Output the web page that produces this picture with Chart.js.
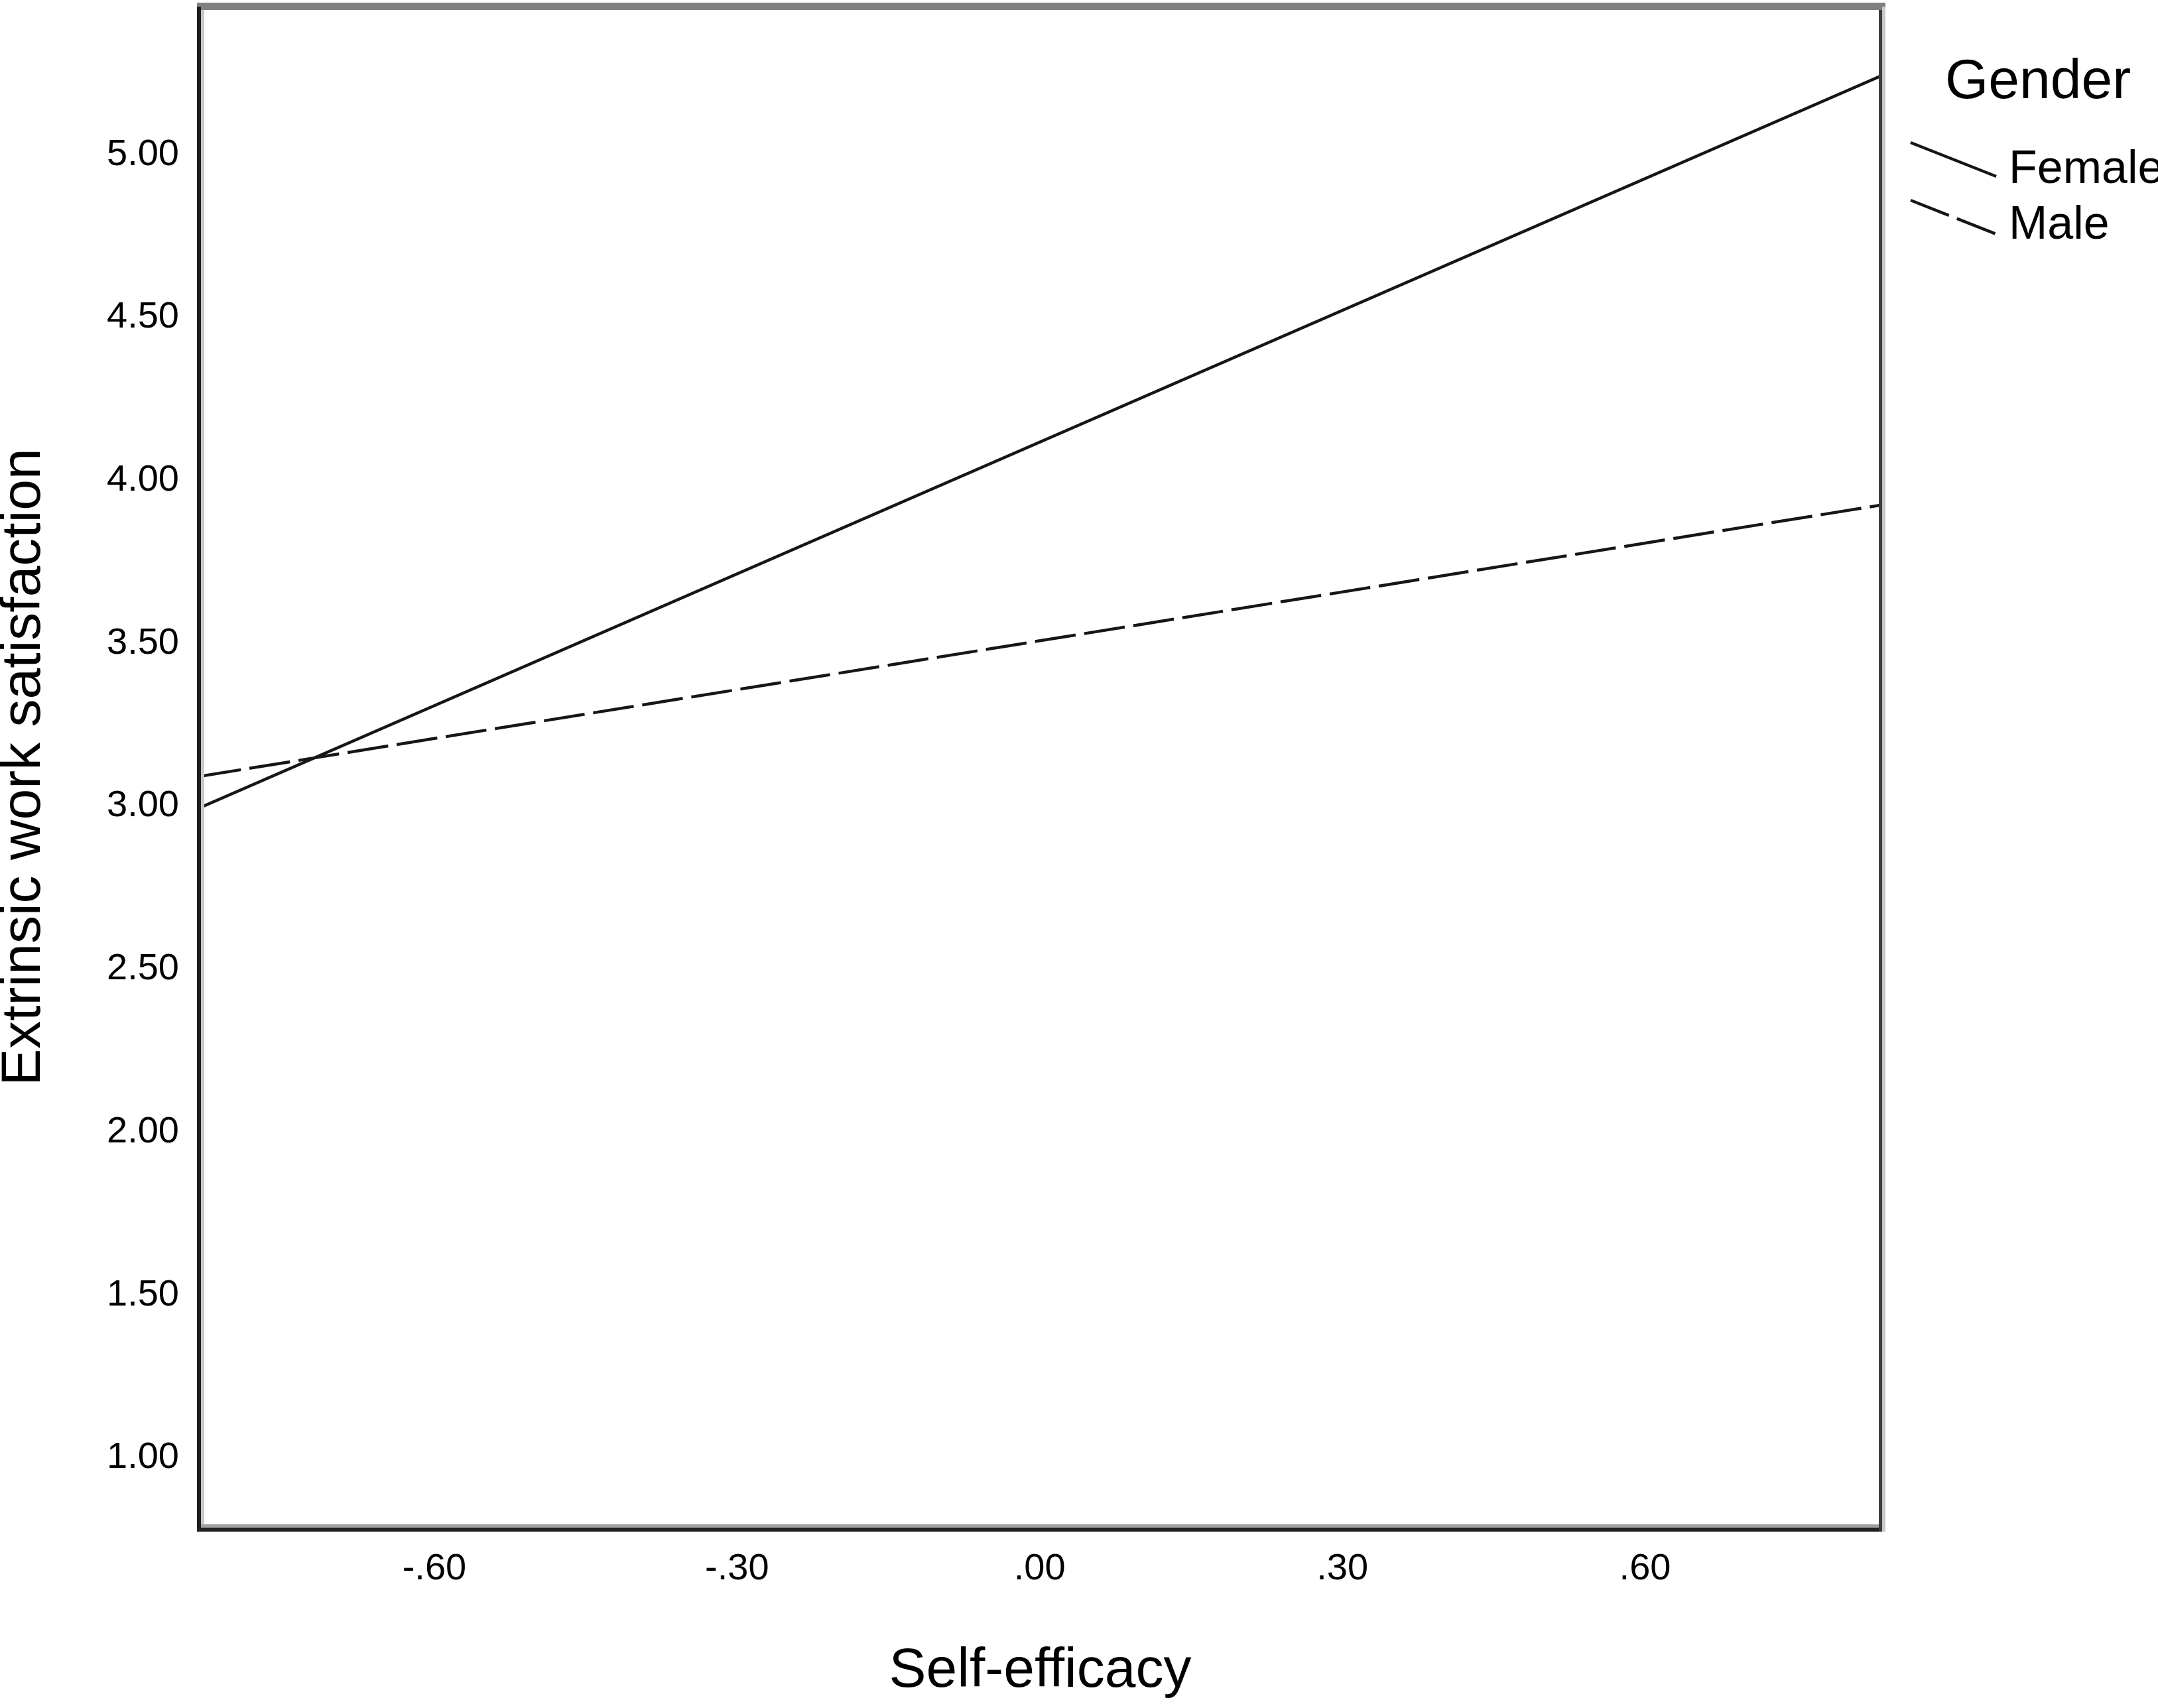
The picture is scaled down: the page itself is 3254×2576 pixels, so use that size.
<!DOCTYPE html>
<html>
<head>
<meta charset="utf-8">
<script src="https://cdn.jsdelivr.net/npm/chart.js@4.4.1/dist/chart.umd.min.js"></script>
<style>
html, body { margin: 0; padding: 0; background: #ffffff; }
#wrap { width: 3254px; height: 2576px; }
canvas { display: block; }
</style>
</head>
<body>
<div id="wrap"><canvas id="c" width="3254" height="2576"></canvas></div>
<script>
// ---- data ----
const selfEfficacy = [-0.832, 0.833];          // x at the two ends of each fitted line
const femaleSatisfaction = [2.996, 5.240];
const maleSatisfaction = [3.092, 3.924];
const seriesLabels = ['Female', 'Male'];
const legendTitle = 'Gender';
const xTicks = [-0.6, -0.3, 0, 0.3, 0.6];
const yTicks = [1, 1.5, 2, 2.5, 3, 3.5, 4, 4.5, 5];
const xRange = [-0.832, 0.833];
const yRange = [0.786, 5.454];
const xTitle = 'Self-efficacy';
const yTitle = 'Extrinsic work satisfaction';

const FONT = "'Liberation Sans', Arial, 'DejaVu Sans', sans-serif";
const INK = '#000000';
const LINE = '#161616';

function fmtX(v) {
  return Number(v).toFixed(2).replace(/^(-?)0\./, '$1.');
}
function fmtY(v) {
  return Number(v).toFixed(2);
}

const framePlugin = {
  id: 'spssFrame',
  afterDatasetsDraw(chart) {
    const ctx = chart.ctx;
    const a = chart.chartArea;
    ctx.save();
    // top band
    ctx.fillStyle = '#808080';
    ctx.fillRect(a.left - 5, a.top - 6, (a.right + 8) - (a.left - 5), 11);
    // left
    ctx.fillStyle = '#1e1e1e';
    ctx.fillRect(a.left - 5, a.top, 6, a.bottom - a.top + 6);
    ctx.fillStyle = '#c8c8c8';
    ctx.fillRect(a.left + 1, a.top + 5, 5, a.bottom - a.top - 10);
    // bottom
    ctx.fillStyle = '#a0a0a0';
    ctx.fillRect(a.left + 1, a.bottom - 5, a.right - a.left - 3, 5);
    ctx.fillStyle = '#222222';
    ctx.fillRect(a.left - 5, a.bottom, a.right - a.left + 8, 6);
    // right
    ctx.fillStyle = '#3c3c3c';
    ctx.fillRect(a.right - 2, a.top + 5, 5, a.bottom - a.top + 1);
    ctx.fillStyle = '#c8c8c8';
    ctx.fillRect(a.right + 3, a.top, 5, a.bottom - a.top + 6);
    ctx.restore();
  }
};

const legendPlugin = {
  id: 'spssLegend',
  afterDraw(chart) {
    const ctx = chart.ctx;
    ctx.save();
    ctx.fillStyle = INK;
    ctx.textAlign = 'left';
    ctx.textBaseline = 'alphabetic';
    ctx.font = '84px ' + FONT;
    ctx.fillText(legendTitle, 2933, 148);
    chart.data.datasets.forEach((ds, i) => {
      const y0 = 215 + i * 87;
      ctx.save();
      ctx.strokeStyle = ds.borderColor;
      ctx.lineWidth = ds.borderWidth;
      ctx.setLineDash(ds.borderDash || []);
      ctx.beginPath();
      ctx.moveTo(2881, y0);
      ctx.lineTo(3010, y0 + 51);
      ctx.stroke();
      ctx.restore();
      ctx.font = '70px ' + FONT;
      ctx.fillStyle = INK;
      ctx.fillText(ds.label, 3029, 276 + i * 84);
    });
    ctx.restore();
  }
};

const chart = new Chart(document.getElementById('c'), {
  type: 'line',
  data: {
    datasets: [
      {
        label: seriesLabels[0],
        data: selfEfficacy.map((x, i) => ({ x: x, y: femaleSatisfaction[i] })),
        borderColor: LINE,
        borderWidth: 4.5,
        pointRadius: 0,
        fill: false,
        tension: 0
      },
      {
        label: seriesLabels[1],
        data: selfEfficacy.map((x, i) => ({ x: x, y: maleSatisfaction[i] })),
        borderColor: LINE,
        borderWidth: 4.5,
        borderDash: [62, 13],
        pointRadius: 0,
        fill: false,
        tension: 0
      }
    ]
  },
  options: {
    responsive: false,
    animation: false,
    devicePixelRatio: 1,
    layout: { padding: { top: 10, right: 419, bottom: 0, left: 0 } },
    plugins: {
      legend: { display: false },
      tooltip: { enabled: false },
      title: { display: false }
    },
    scales: {
      x: {
        type: 'linear',
        min: xRange[0],
        max: xRange[1],
        afterBuildTicks: (axis) => { axis.ticks = xTicks.map(v => ({ value: v })); },
        afterFit: (s) => { s.height = 272; s.paddingLeft = 0; s.paddingRight = 0; },
        grid: { display: false, drawTicks: false },
        border: { display: false },
        ticks: {
          padding: 29,
          color: INK,
          autoSkip: false,
          maxRotation: 0,
          font: { family: FONT, size: 56, lineHeight: 1.2 },
          callback: (v) => fmtX(v)
        },
        title: {
          display: true,
          text: xTitle,
          color: INK,
          font: { family: FONT, size: 84, lineHeight: 1 },
          padding: { top: 0, bottom: 13 }
        }
      },
      y: {
        type: 'linear',
        min: yRange[0],
        max: yRange[1],
        afterBuildTicks: (axis) => { axis.ticks = yTicks.map(v => ({ value: v })); },
        afterFit: (s) => { s.width = 302; s.paddingTop = 0; s.paddingBottom = 0; },
        grid: { display: false, drawTicks: false },
        border: { display: false },
        ticks: {
          padding: 32,
          color: INK,
          autoSkip: false,
          font: { family: FONT, size: 56, lineHeight: 1.2 },
          callback: (v) => fmtY(v)
        },
        title: {
          display: true,
          text: yTitle,
          color: INK,
          font: { family: FONT, size: 84, lineHeight: 0.88 },
          padding: { top: 0, bottom: 0 }
        }
      }
    }
  },
  plugins: [framePlugin, legendPlugin]
});
</script>
</body>
</html>
